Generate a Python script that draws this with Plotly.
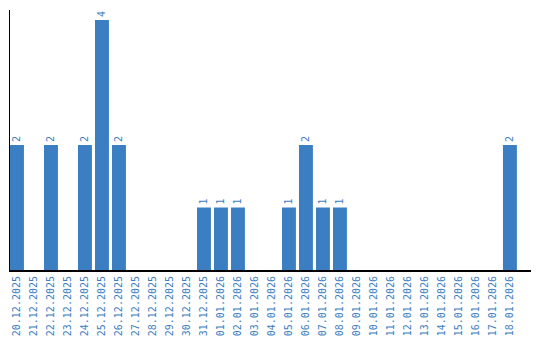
import plotly.graph_objects as go

dates = ["20.12.2025", "21.12.2025", "22.12.2025", "23.12.2025", "24.12.2025",
         "25.12.2025", "26.12.2025", "27.12.2025", "28.12.2025", "29.12.2025",
         "30.12.2025", "31.12.2025", "01.01.2026", "02.01.2026", "03.01.2026",
         "04.01.2026", "05.01.2026", "06.01.2026", "07.01.2026", "08.01.2026",
         "09.01.2026", "10.01.2026", "11.01.2026", "12.01.2026", "13.01.2026",
         "14.01.2026", "15.01.2026", "16.01.2026", "17.01.2026", "18.01.2026"]
counts = [2, 0, 2, 0, 2, 4, 2, 0, 0, 0,
          0, 1, 1, 1, 0, 0, 1, 2, 1, 1,
          0, 0, 0, 0, 0, 0, 0, 0, 0, 2]

blue = "#3b7ec2"
labels = [str(v) if v > 0 else "" for v in counts]

fig = go.Figure(go.Bar(
    x=list(range(len(dates))), y=counts, text=labels,
    textposition="outside", textangle=-90,
    textfont=dict(family="DejaVu Sans Mono", size=10, color=blue),
    marker=dict(color=blue, line=dict(width=0)),
    width=0.82, cliponaxis=False,
))

fig.update_layout(
    width=540, height=340,
    margin=dict(l=10, r=9, t=10, b=70, autoexpand=False),
    paper_bgcolor="white", plot_bgcolor="white",
    showlegend=False,
    font=dict(family="DejaVu Sans Mono", size=10, color=blue),
)
fig.update_xaxes(
    tickmode="array", tickvals=list(range(len(dates))), ticktext=dates,
    tickangle=-90, range=[-0.41, 30.24], automargin=False,
    showline=True, linecolor="black", linewidth=2,
    showgrid=False, zeroline=False, ticks="",
    tickfont=dict(family="DejaVu Sans Mono", size=10, color=blue),
)
fig.update_yaxes(
    range=[0, 4.16], showline=True, linecolor="black", linewidth=1,
    showgrid=False, zeroline=False, showticklabels=False, ticks="",
    automargin=False,
)

fig.write_html("out.html")
